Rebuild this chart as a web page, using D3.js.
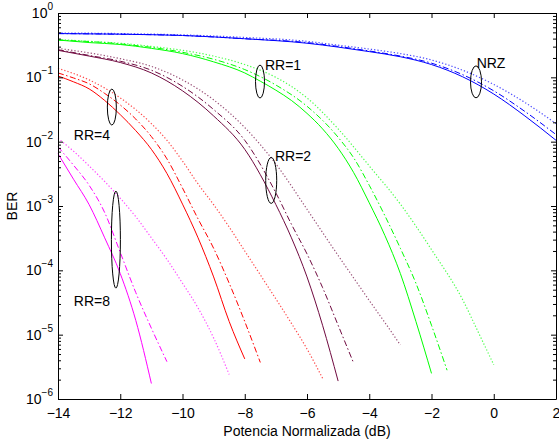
<!DOCTYPE html>
<html>
<head>
<meta charset="utf-8">
<script src="https://cdn.jsdelivr.net/npm/d3@7"></script>
<style>
  body { margin: 0; background: #fff; }
  svg text { font-family: "Liberation Sans", Arial, sans-serif; fill: #000; }
</style>
</head>
<body>
<div id="chart"></div>
<script>
// potencia normalizada (dB) and BER
var xTicks = [-14, -12, -10, -8, -6, -4, -2, 0, 2];
var yDecades = [1e-6, 1e-5, 1e-4, 1e-3, 1e-2, 1e-1, 1];

var nrzX = [-14, -12, -10, -8, -6, -5, -4, -3, -2, -1, 0, 1, 2];
var nrzSolid = [0.479, 0.468, 0.447, 0.398, 0.339, 0.295, 0.251, 0.209, 0.158, 0.102, 0.055, 0.0251, 0.0105];
var nrzDash  = [0.479, 0.468, 0.447, 0.398, 0.347, 0.302, 0.257, 0.214, 0.166, 0.110, 0.0617, 0.0295, 0.0129];
var nrzDot   = [0.490, 0.479, 0.457, 0.417, 0.363, 0.316, 0.275, 0.234, 0.186, 0.129, 0.0776, 0.0407, 0.0191];

var rr1SolidX = [-14, -13, -12, -11, -10, -9, -8, -7.5, -7, -6.5, -6, -5.5, -5, -4.5, -4, -3.5, -3, -2.5, -2];
var rr1Solid  = [0.380, 0.347, 0.324, 0.282, 0.234, 0.174, 0.117, 0.0871, 0.0631, 0.0437, 0.0275, 0.0158, 7.9e-3, 3.3e-3, 1.12e-3, 3.5e-4, 8.9e-5, 1.6e-5, 2.5e-6];
var rr1DashX  = [-14, -12, -10, -9, -8, -7, -6, -5, -4.5, -4, -3.5, -3, -2.5, -2, -1.5];
var rr1Dash   = [0.380, 0.331, 0.245, 0.191, 0.132, 0.0759, 0.0355, 0.0117, 5.6e-3, 2.1e-3, 7.1e-4, 2.2e-4, 6.3e-5, 1.4e-5, 2.8e-6];
var rr1DotX   = [-14, -13, -12, -11, -10, -9, -8, -7, -6, -5, -4, -3, -2, -1, -0.5, 0];
var rr1Dot    = [0.389, 0.363, 0.339, 0.302, 0.263, 0.214, 0.158, 0.100, 0.0479, 0.0158, 4.2e-3, 1.07e-3, 2.1e-4, 3.5e-5, 1.1e-5, 3.4e-6];

var rr2SolidX = [-14, -13, -12, -11, -10, -9, -8, -7, -6.5, -6, -5.5, -5];
var rr2Solid  = [0.263, 0.214, 0.170, 0.117, 0.0617, 0.0251, 7.6e-3, 1.05e-3, 3.2e-4, 7.9e-5, 1.4e-5, 1.9e-6];
var rr2DashX  = [-14, -13, -12, -11, -10, -9, -8, -7, -6.5, -6, -5.5, -5, -4.5];
var rr2Dash   = [0.269, 0.219, 0.178, 0.129, 0.0724, 0.0316, 0.0105, 1.6e-3, 5.2e-4, 1.8e-4, 5.4e-5, 1.4e-5, 3.6e-6];
var rr2DotX   = [-14, -13, -12, -11, -10, -9, -8, -7, -6, -5, -4.5, -4, -3.5, -3];
var rr2Dot    = [0.282, 0.240, 0.195, 0.148, 0.0912, 0.0447, 0.0166, 4.5e-3, 8.9e-4, 1.7e-4, 7.6e-5, 3.4e-5, 1.55e-5, 6.9e-6];

var rr4SolidX = [-14, -13.5, -13, -12.5, -12, -11.5, -11, -10.5, -10, -9.5, -9, -8.5, -8];
var rr4Solid  = [0.105, 0.0851, 0.0661, 0.0437, 0.0263, 0.0148, 7.6e-3, 3.2e-3, 1.07e-3, 3.2e-4, 7.9e-5, 1.6e-5, 4.2e-6];
var rr4DashX  = [-14, -13.5, -13, -12.5, -12, -11.5, -11, -10.5, -10, -9.5, -9, -8.5, -8, -7.5];
var rr4Dash   = [0.117, 0.0977, 0.0794, 0.0562, 0.0372, 0.0224, 0.0120, 5.4e-3, 1.9e-3, 6.3e-4, 2.2e-4, 6.3e-5, 1.6e-5, 3.7e-6];
var rr4DotX   = [-14, -13, -12, -11, -10.5, -10, -9.5, -9, -8.5, -8, -7.5, -7, -6.5, -6, -5.5];
var rr4Dot    = [0.138, 0.0912, 0.0479, 0.0191, 0.0105, 5.0e-3, 2.2e-3, 1.05e-3, 4.7e-4, 2.0e-4, 8.5e-5, 3.6e-5, 1.5e-5, 6.0e-6, 2.1e-6];

var rr8SolidX = [-14, -13.5, -13, -12.5, -12, -11.5, -11];
var rr8Solid  = [6.5e-3, 2.6e-3, 1.05e-3, 3.2e-4, 8.9e-5, 1.66e-5, 1.74e-6];
var rr8DashX  = [-14, -13.5, -13, -12.5, -12, -11.5, -11, -10.5];
var rr8Dash   = [8.3e-3, 4.3e-3, 2.1e-3, 7.9e-4, 1.9e-4, 4.5e-5, 1.26e-5, 3.8e-6];
var rr8DotX   = [-14, -13.5, -13, -12.5, -12, -11.5, -11, -10.5, -10, -9.5, -9, -8.5];
var rr8Dot    = [0.0112, 7.1e-3, 4.2e-3, 2.4e-3, 1.32e-3, 6.8e-4, 3.2e-4, 1.48e-4, 6.3e-5, 2.6e-5, 8.9e-6, 2.4e-6];

var labels = ["NRZ", "RR=1", "RR=2", "RR=4", "RR=8"];

var margin = { top: 13, right: 3, bottom: 42, left: 58 };
var width = 559 - margin.left - margin.right;
var height = 441 - margin.top - margin.bottom;

var svg = d3.select("#chart")
  .append("svg")
  .attr("width", 559)
  .attr("height", 441)
  .append("g")
  .attr("transform", "translate(" + margin.left + "," + margin.top + ")");

var x = d3.scaleLinear().domain([-14, 2]).range([0, width]);
var y = d3.scaleLog().domain([1e-6, 1]).range([height, 0]);

var DASH = "6,2.5,1.5,2.5";
var DOT = "1.3,2";

var series = [
  { x: nrzX, y: nrzSolid, color: "#0000ff", dash: null },
  { x: nrzX, y: nrzDash, color: "#0000ff", dash: DASH },
  { x: nrzX, y: nrzDot, color: "#0000ff", dash: DOT },
  { x: rr1SolidX, y: rr1Solid, color: "#00ff00", dash: null },
  { x: rr1DashX, y: rr1Dash, color: "#00ff00", dash: DASH },
  { x: rr1DotX, y: rr1Dot, color: "#00ff00", dash: DOT },
  { x: rr2SolidX, y: rr2Solid, color: "#700a40", dash: null },
  { x: rr2DashX, y: rr2Dash, color: "#700a40", dash: DASH },
  { x: rr2DotX, y: rr2Dot, color: "#700a40", dash: DOT },
  { x: rr4SolidX, y: rr4Solid, color: "#ff0000", dash: null },
  { x: rr4DashX, y: rr4Dash, color: "#ff0000", dash: DASH },
  { x: rr4DotX, y: rr4Dot, color: "#ff0000", dash: DOT },
  { x: rr8SolidX, y: rr8Solid, color: "#ff00ff", dash: null },
  { x: rr8DashX, y: rr8Dash, color: "#ff00ff", dash: DASH },
  { x: rr8DotX, y: rr8Dot, color: "#ff00ff", dash: DOT }
];

var line = d3.line()
  .x(function(d) { return x(d[0]); })
  .y(function(d) { return y(d[1]); })
  .curve(d3.curveMonotoneX);

svg.selectAll(".curve")
  .data(series)
  .enter().append("path")
  .attr("class", "curve")
  .attr("fill", "none")
  .attr("stroke", function(d) { return d.color; })
  .attr("stroke-width", function(d) { return d.dash === DOT ? 1.2 : 1; })
  .attr("stroke-opacity", function(d) { return d.dash === DOT ? 0.7 : 1; })
  .attr("stroke-dasharray", function(d) { return d.dash; })
  .attr("d", function(d) { return line(d.x.map(function(v, i) { return [v, d.y[i]]; })); });

// minor ticks for log axis
var minorTicks = [];
yDecades.slice(0, -1).forEach(function(dec) {
  for (var k = 2; k <= 9; k++) minorTicks.push(dec * k);
});

// axes (inward ticks, box style)
svg.append("g")
  .attr("class", "x axis")
  .attr("transform", "translate(0," + height + ")")
  .call(d3.axisBottom(x).tickValues(xTicks).tickSizeInner(-5).tickSizeOuter(0).tickPadding(9));

svg.append("g")
  .attr("class", "x axis top")
  .call(d3.axisTop(x).tickValues(xTicks).tickSizeInner(-5).tickSizeOuter(0).tickFormat(""));

svg.append("g")
  .attr("class", "y axis")
  .call(d3.axisLeft(y).tickValues(yDecades).tickSizeInner(-5).tickSizeOuter(0).tickFormat(""));

svg.append("g")
  .attr("class", "y axis right")
  .attr("transform", "translate(" + width + ",0)")
  .call(d3.axisRight(y).tickValues(yDecades).tickSizeInner(-5).tickSizeOuter(0).tickFormat(""));

svg.append("g")
  .call(d3.axisLeft(y).tickValues(minorTicks).tickSizeInner(-3).tickSizeOuter(0).tickFormat(""))
  .select(".domain").remove();
svg.append("g")
  .attr("transform", "translate(" + width + ",0)")
  .call(d3.axisRight(y).tickValues(minorTicks).tickSizeInner(-3).tickSizeOuter(0).tickFormat(""))
  .select(".domain").remove();

svg.selectAll(".axis path, .axis line, g line").attr("stroke", "#000");
svg.selectAll(".x.axis text").style("font-size", "14px").attr("fill", "#000");

// y tick labels 10^n
var yLab = svg.append("g").attr("class", "ylabels");
yDecades.forEach(function(v) {
  var t = yLab.append("text")
    .attr("x", -5)
    .attr("y", y(v) + 5)
    .attr("text-anchor", "end")
    .style("font-size", "14px");
  t.append("tspan").text("10");
  t.append("tspan")
    .attr("dy", -8)
    .style("font-size", "10px")
    .text(v === 1 ? "0" : "\u2212" + Math.round(-Math.log10(v)));
});

// axis titles
svg.append("text")
  .attr("x", width / 2)
  .attr("y", height + 37)
  .attr("text-anchor", "middle")
  .style("font-size", "14px")
  .text("Potencia Normalizada (dB)");

svg.append("text")
  .attr("transform", "translate(" + (-41) + "," + (height / 2) + ") rotate(-90)")
  .attr("text-anchor", "middle")
  .style("font-size", "14px")
  .text("BER");

// ellipses marking each group
var marks = [
  { cx: -0.57, cy: 0.085, rx: 5.5, ry: 16, lx: -0.55, ly: 0.14, label: labels[0] },
  { cx: -7.51, cy: 0.086, rx: 4.5, ry: 16.5, lx: -7.35, ly: 0.13, label: labels[1] },
  { cx: -7.15, cy: 2.5e-3, rx: 5.5, ry: 23, lx: -7.03, ly: 5.0e-3, label: labels[2] },
  { cx: -12.27, cy: 0.0345, rx: 4.5, ry: 18, lx: -13.49, ly: 0.0107, label: labels[3] },
  { cx: -12.14, cy: 3.0e-4, rx: 4.5, ry: 48.5, lx: -13.49, ly: 2.8e-5, label: labels[4] }
];

svg.selectAll(".mark")
  .data(marks)
  .enter().append("ellipse")
  .attr("class", "mark")
  .attr("cx", function(d) { return x(d.cx); })
  .attr("cy", function(d) { return y(d.cy); })
  .attr("rx", function(d) { return d.rx; })
  .attr("ry", function(d) { return d.ry; })
  .attr("fill", "none")
  .attr("stroke", "#000")
  .attr("stroke-width", 1);

svg.selectAll(".mark-label")
  .data(marks)
  .enter().append("text")
  .attr("class", "mark-label")
  .attr("x", function(d) { return x(d.lx); })
  .attr("y", function(d) { return y(d.ly); })
  .style("font-size", "14px")
  .text(function(d) { return d.label; });
</script>
</body>
</html>
